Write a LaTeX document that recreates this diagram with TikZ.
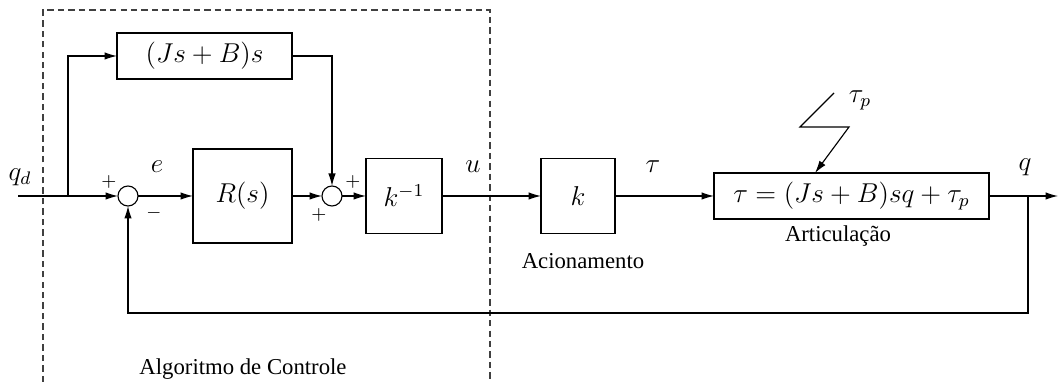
\documentclass[tikz,border=0pt]{standalone}
\usepackage[no-math]{fontspec}
\setmainfont{Liberation Serif}
\usetikzlibrary{arrows.meta,calc}
\begin{document}
\begin{tikzpicture}[x=0.44pt,y=-0.44pt,
  line width=0.5pt,
  blk/.style={draw, inner sep=0pt, outer sep=0pt, font=\fontsize{11.5}{14}\selectfont},
  sumc/.style={draw, circle, inner sep=0pt, outer sep=0pt, minimum size={20*0.44pt}},
  arr/.style={-{Latex[length=5.5pt,width=3.3pt]}},
  lbl/.style={inner sep=0pt, font=\fontsize{11.5}{14}\selectfont},
  sgn/.style={inner sep=0pt, font=\footnotesize},
  txt/.style={inner sep=0pt, font=\fontsize{10}{12}\selectfont},
  box/.style={draw=black!75, dashed, dash pattern=on 2.8pt off 1.8pt}]
\useasboundingbox (0,0) rectangle (1059,382);
% dashed control region
\draw[box] (43,382) -- (43,10) -- (490,10) -- (490,382);
% blocks
\node[blk, minimum width={175*0.44pt}, minimum height={46*0.44pt}] (js) at (204.5,56) {$(Js+B)s$};
\node[blk, minimum width={99*0.44pt}, minimum height={94*0.44pt}] (R) at (242.5,196) {$R(s)$};
\node[blk, minimum width={76*0.44pt}, minimum height={75*0.44pt}] (kinv) at (404,196) {$k^{-1}$};
\node[blk, minimum width={74*0.44pt}, minimum height={75*0.44pt}] (k) at (578,196) {$k$};
\node[blk, minimum width={275*0.44pt}, minimum height={46*0.44pt}] (art) at (851.5,196) {$\tau = (Js+B)sq+\tau_p$};
\node[sumc] (s1) at (128,196) {};
\node[sumc] (s2) at (332,196) {};
% coordinates
\coordinate (in) at (18,196);
\coordinate (b1) at (68,196);
\coordinate (out) at (1058,196);
\coordinate (b2) at (1028,196);
\coordinate (fb) at (1028,313);
\coordinate (z1) at (834,93);
\coordinate (z2) at (800,127);
\coordinate (z3) at (849,127);
\coordinate (z4) at (815,196);
% connectors
\draw[arr] (in) -- (s1.west);
\draw[arr] (b1) |- (js.west);
\draw[arr] (s1.east) -- (R.west);
\draw[arr] (R.east) -- (s2.west);
\draw[arr] (js.east) -| (s2.north);
\draw[arr] (s2.east) -- (kinv.west);
\draw[arr] (kinv.east) -- (k.west);
\draw[arr] (k.east) -- (art.west);
\draw[arr] (art.east) -- (out);
\draw[arr] (b2) -- (fb) -| (s1.south);
\draw[arr] (z1) -- (z2) -- (z3) -- (z4 |- art.north);
% labels
\node[lbl] (lqd) at (20,177) {$q_d$};
\node[lbl] (le) at (157,167) {$e$};
\node[lbl] (lu) at (473,167) {$u$};
\node[lbl] (ltau) at (653,167) {$\tau$};
\node[lbl] (lq) at (1025,167) {$q$};
\node[lbl] (ltp) at (860,100) {$\tau_p$};
\node[sgn] (p1) at (109,182) {$+$};
\node[sgn] (m1) at (154,213) {$-$};
\node[sgn] (p2) at (353,182) {$+$};
\node[sgn] (p3) at (319,215) {$+$};
\node[txt] (acion) at (583,261) {Acionamento};
\node[txt] (artic) at (838,236) {Articulação};
\node[txt] (alg) at (243,369) {Algoritmo de Controle};
\end{tikzpicture}
\end{document}
